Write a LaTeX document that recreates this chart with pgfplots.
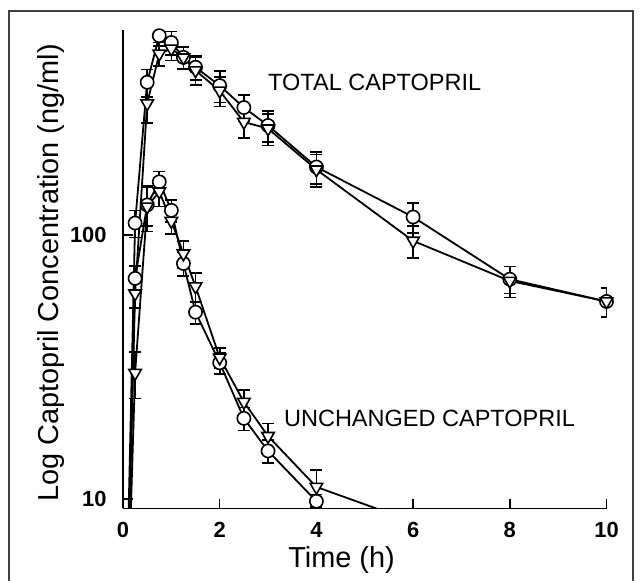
\documentclass[border=0pt]{standalone}
\usepackage{fontspec}
\setmainfont{Liberation Sans}
\usepackage{pgfplots}
\pgfplotsset{compat=1.18}
\usepackage{pgfplotstable}

% total captopril, circles
\pgfplotstableread{
t v e
0 1 0
0.25 111 13
0.5 379 45
0.75 569 50
1 536 55
1.25 471 45
1.5 432 45
2 368 50
2.5 304 35
3 260 35
4 181 25
6 117 15
8 68 8
10 56 7
}\TC
% total captopril, triangles
\pgfplotstableread{
t v e
0 1 0
0.25 60 7
0.5 315 50
0.75 486 50
1 508 50
1.25 470 45
1.5 420 50
2 352 45
2.5 268 35
3 253 35
4 177 25
6 95 13
8 67 9
10 56 7
}\TT
% unchanged captopril, circles
\pgfplotstableread{
t v e
0 1 0
0.25 68.5 8
0.5 130 22
0.75 159 15
1 124 12
1.25 78 8
1.5 51 5
2 32.8 3
2.5 20.2 2
3 15.2 1.5
4 9.8 0.6
}\UC
% unchanged captopril, triangles
\pgfplotstableread{
t v e
0 1 0
0.25 30 6
0.5 128 25
0.75 146 18
1 113 12
1.25 85 10
1.5 63.8 8
2 34.3 3
2.5 23.3 2.5
3 17.3 2
4 11.1 1.8
6 8.2 0
}\UT

\pgfplotsset{
  curve/.style={black, line width=0.9bp, no marks},
  circ/.style={only marks, mark=*, mark size=3.3bp,
    mark options={fill=white, draw=black, line width=0.8bp},
    error bars/.cd, y dir=both, y explicit,
    error mark=-, error mark options={black, rotate=90, mark size=3bp, line width=0.8bp},
    error bar style={black, line width=0.8bp}},
  tri/.style={only marks, mark=triangle*, mark size=3.6bp,
    mark options={fill=white, draw=black, line width=0.8bp, rotate=180},
    error bars/.cd, y dir=both, y explicit,
    error mark=-, error mark options={black, rotate=90, mark size=3bp, line width=0.8bp},
    error bar style={black, line width=0.8bp}},
}

\begin{document}
\begin{tikzpicture}
\useasboundingbox (0,0) rectangle (320bp,290.5bp);
\begin{axis}[
  at={(61.5bp,36.25bp)}, anchor=south west,
  scale only axis, width=241.75bp, height=239.25bp,
  xmin=0, xmax=10, ymode=log, ymin=9.2, ymax=598,
  axis x line=bottom, axis y line=left,
  axis line style={-, black, line width=0.7bp},
  xtick={0,2,4,6,8,10}, xticklabels={0,2,4,6,8,10},
  ytick={10,100}, yticklabels={10,100},
  yminorticks=false, xminorticks=false,
  tick align=inside, major tick length=5bp,
  tick style={black, line width=0.7bp},
  ticklabel style={font=\fontsize{11}{13}\selectfont\bfseries},
  xticklabel style={anchor=center, yshift=-10.5bp},
  yticklabel style={anchor=east, inner sep=0pt, xshift=-8bp},
  xlabel={Time (h)},
  xlabel style={at={(axis description cs:0.452,-0.1076)}, anchor=center,
    font=\fontsize{14.5}{16}\selectfont},
  ylabel={Log Captopril Concentration (ng/ml)},
  ylabel style={at={(axis description cs:-0.149,0.492)}, anchor=center,
    font=\fontsize{14.5}{16}\selectfont},
]
\addplot[curve] table[x=t,y=v] {\TC};
\addplot[curve] table[x=t,y=v] {\TT};
\addplot[curve] table[x=t,y=v] {\UC};
\addplot[curve] table[x=t,y=v] {\UT};

\addplot[circ] table[x=t,y=v,y error=e, skip coords between index={0}{1}] {\TC};
\addplot[tri] table[x=t,y=v,y error=e, skip coords between index={0}{1}] {\TT};
\addplot[circ] table[x=t,y=v,y error=e, skip coords between index={0}{1}] {\UC};
\addplot[tri] table[x=t,y=v,y error=e, skip coords between index={0}{1}, skip coords between index={11}{12}] {\UT};

\node[font=\fontsize{11.8}{13}\selectfont] at (axis cs:5.206,378) {TOTAL CAPTOPRIL};
\node[font=\fontsize{11.8}{13}\selectfont] at (axis cs:6.34,20.2) {UNCHANGED CAPTOPRIL};
\end{axis}
\draw[black!75, line width=1bp] (4.5bp,-2bp) -- (4.5bp,285bp) -- (316.5bp,285bp) -- (316.5bp,-2bp);
\end{tikzpicture}
\end{document}
